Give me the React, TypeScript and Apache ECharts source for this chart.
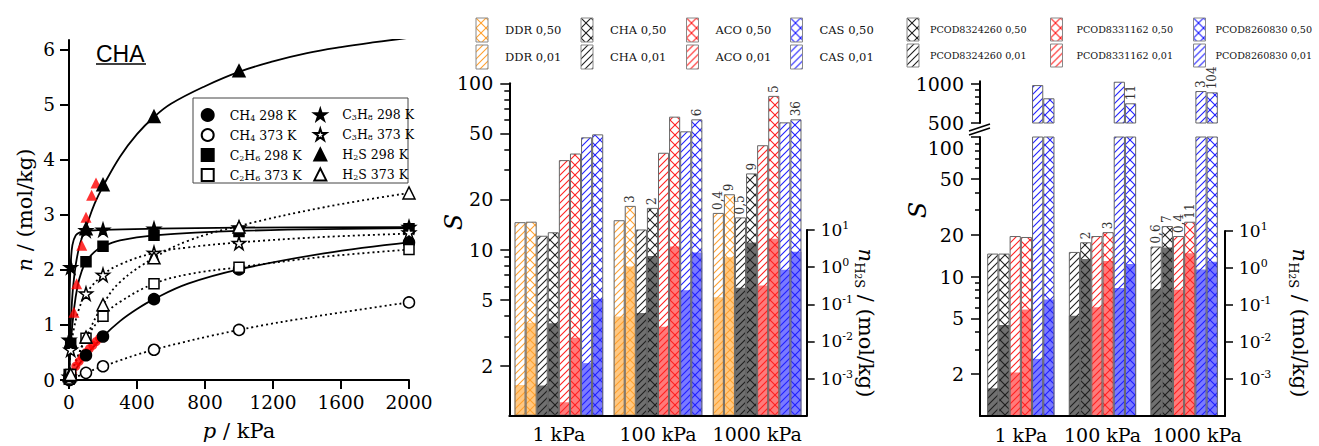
import React, { useEffect, useRef } from 'react';
import * as echarts from 'echarts';

const SERIF = '"DejaVu Serif", serif';

// ---------- Left panel: isotherms in CHA (p / kPa, n / mol/kg) ----------
// measured points (markers)
const P_CH4_298 = [1, 10, 100, 200, 500, 1000, 2000];
const N_CH4_298 = [0.0, 0.05, 0.45, 0.79, 1.47, 2.01, 2.5];
const P_CH4_373 = [10, 100, 200, 500, 1000, 2000];
const N_CH4_373 = [0.01, 0.13, 0.25, 0.55, 0.91, 1.41];
const P_C2H6_298 = [1, 10, 100, 200, 500, 1000, 2000];
const N_C2H6_298 = [0.1, 0.65, 2.15, 2.43, 2.63, 2.7, 2.75];
const P_C2H6_373 = [1, 10, 100, 200, 500, 1000, 2000];
const N_C2H6_373 = [0.02, 0.1, 0.76, 1.16, 1.75, 2.05, 2.37];
const P_C3H8_298 = [1, 10, 100, 200, 500, 1000, 2000];
const N_C3H8_298 = [0.73, 2.05, 2.72, 2.73, 2.75, 2.77, 2.78];
const P_C3H8_373 = [1, 10, 100, 200, 500, 1000, 2000];
const N_C3H8_373 = [0.06, 0.55, 1.57, 1.91, 2.31, 2.49, 2.68];
const P_H2S_298 = [1, 10, 100, 200, 500, 1000, 2000];
const N_H2S_298 = [0.08, 0.7, 2.75, 3.55, 4.79, 5.62, 6.22];
const P_H2S_373 = [10, 100, 200, 500, 1000, 2000];
const N_H2S_373 = [0.1, 0.78, 1.37, 2.22, 2.78, 3.4];
// red markers
const P_RED_TRI = [29, 45, 75, 100, 133, 159];
const N_RED_TRI = [1.23, 1.75, 2.45, 2.96, 3.36, 3.58];
const P_RED_CIR = [20, 40, 60, 80, 100, 120, 140, 160, 180];
const N_RED_CIR = [0.12, 0.25, 0.34, 0.42, 0.5, 0.57, 0.63, 0.7, 0.76];
// fitted curves
const FP_CH4_298 = [0, 10, 50, 100, 200, 300, 400, 500, 700, 1000, 1500, 2000];
const FN_CH4_298 = [0, 0.05, 0.24, 0.45, 0.79, 1.07, 1.29, 1.47, 1.75, 2.01, 2.3, 2.5];
const FP_CH4_373 = [0, 100, 200, 500, 1000, 1500, 2000];
const FN_CH4_373 = [0, 0.13, 0.25, 0.55, 0.91, 1.18, 1.41];
const FP_C2H6_298 = [0, 1, 10, 30, 50, 75, 100, 150, 200, 300, 500, 1000, 2000];
const FN_C2H6_298 = [0, 0.1, 0.65, 1.3, 1.7, 1.98, 2.15, 2.33, 2.43, 2.54, 2.63, 2.71, 2.76];
const FP_C2H6_373 = [0, 10, 50, 100, 200, 300, 500, 700, 1000, 1500, 2000];
const FN_C2H6_373 = [0, 0.1, 0.42, 0.76, 1.16, 1.42, 1.75, 1.92, 2.05, 2.24, 2.37];
const FP_C3H8_298 = [0, 1, 3, 6, 10, 20, 40, 70, 100, 200, 500, 1000, 2000];
const FN_C3H8_298 = [0, 0.75, 1.45, 1.85, 2.1, 2.45, 2.63, 2.69, 2.71, 2.73, 2.75, 2.77, 2.78];
const FP_C3H8_373 = [0, 10, 30, 60, 100, 200, 300, 500, 700, 1000, 1500, 2000];
const FN_C3H8_373 = [0, 0.55, 0.95, 1.3, 1.57, 1.91, 2.1, 2.31, 2.41, 2.5, 2.6, 2.66];
const FP_H2S_298 = [0, 3, 8, 15, 25, 40, 60, 80, 100, 150, 200, 300, 400, 500, 600, 800, 1000, 1200, 1400, 1600, 1800, 2000];
const FN_H2S_298 = [0, 0.35, 0.85, 1.3, 1.72, 2.1, 2.42, 2.62, 2.78, 3.2, 3.52, 4.06, 4.47, 4.78, 5.02, 5.34, 5.6, 5.79, 5.94, 6.05, 6.14, 6.22];
const FP_H2S_373 = [0, 10, 50, 100, 200, 300, 500, 700, 1000, 1500, 2000];
const FN_H2S_373 = [0, 0.1, 0.4, 0.77, 1.37, 1.78, 2.22, 2.53, 2.8, 3.14, 3.4];

const LEFT_X_TICKS = [0, 400, 800, 1200, 1600, 2000];
const LEFT_Y_TICKS = [0, 1, 2, 3, 4, 5, 6];

// ---------- Bar panels ----------
const CATS = ['1 kPa', '100 kPa', '1000 kPa'];
// middle panel: selectivity S
const S_DDR_001 = [14.6, 15.0, 16.6];
const S_DDR_050 = [14.7, 18.3, 21.5];
const S_CHA_001 = [12.1, 13.2, 15.6];
const S_CHA_050 = [12.7, 17.8, 28.7];
const S_ACO_001 = [34.5, 38.2, 42.4];
const S_ACO_050 = [37.8, 63, 84];
const S_CAS_001 = [47.3, 51.4, 58.2];
const S_CAS_050 = [49.3, 60.7, 60.7];
// middle panel: n_H2S (mol/kg)
const N_DDR_001 = [0.00067, 0.047, 0.155];
const N_DDR_050 = [0.032, 1.04, 1.86];
const N_CHA_001 = [0.00065, 0.058, 0.28];
const N_CHA_050 = [0.031, 2.0, 4.6];
const N_ACO_001 = [0.00023, 0.025, 0.32];
const N_ACO_050 = [0.0126, 3.6, 5.8];
const N_CAS_001 = [0.0026, 0.24, 0.85];
const N_CAS_050 = [0.138, 2.47, 2.6];
// middle panel labels
const L_DDR_001 = ['', '', '0,4'];
const L_DDR_050 = ['', '3', '9'];
const L_CHA_001 = ['', '', '0,5'];
const L_CHA_050 = ['', '2', '9'];
const L_ACO_001 = ['', '', ''];
const L_ACO_050 = ['', '', '5'];
const L_CAS_001 = ['', '', ''];
const L_CAS_050 = ['', '6', '36'];

// right panel
const S_P24_001 = [14.6, 15.0, 16.4];
const S_P24_050 = [14.6, 17.6, 23];
const S_P62_001 = [19.5, 19.5, 19.5];
const S_P62_050 = [19.2, 20.8, 24.7];
const S_P30_001 = [982, 1042, 883];
const S_P30_050 = [776, 710, 863];
const N_P24_001 = [0.00056, 0.051, 0.27];
const N_P24_050 = [0.029, 1.75, 3.6];
const N_P62_001 = [0.0015, 0.087, 0.26];
const N_P62_050 = [0.076, 1.55, 2.5];
const N_P30_001 = [0.0035, 0.29, 0.91];
const N_P30_050 = [0.14, 1.29, 1.48];
const L_P24_001 = ['', '', '0,6'];
const L_P24_050 = ['', '2', '7'];
const L_P62_001 = ['', '', '0,4'];
const L_P62_050 = ['', '3', '11'];
const L_P30_001 = ['', '', '3'];
const L_P30_050 = ['', '11', '104'];

const S_MAJOR = [2, 5, 10, 20, 50, 100];
const S_MINOR = [3, 4, 6, 7, 8, 9, 30, 40, 60, 70, 80, 90];
const S_UP_MAJOR = [500, 1000];
const S_UP_MINOR = [600, 700, 800, 900];
const N_TICKS = [0.001, 0.01, 0.1, 1, 10];

const STAR =
  'path://M50 0 L61.2 34.6 L97.6 34.5 L68.1 55.9 L79.4 90.5 L50 69 L20.6 90.5 L31.9 55.9 L2.4 34.5 L38.8 34.6 Z';

const COLORS = {
  orange: { line: '#ff9f2e', fill: '#ffc882' },
  black: { line: '#1e1e1e', fill: '#707070' },
  red: { line: '#ff1f1f', fill: '#ff7a7a' },
  blue: { line: '#1f1fff', fill: '#7a7aff' },
};

function makeHatch(color: string, cross: boolean) {
  const s = cross ? 10 : 7;
  const c = document.createElement('canvas');
  c.width = s;
  c.height = s;
  const g = c.getContext('2d')!;
  g.strokeStyle = color;
  g.lineWidth = 1.1;
  for (let k = -1; k <= 1; k++) {
    g.beginPath();
    g.moveTo(k * s - 1, s + 1);
    g.lineTo(k * s + s + 1, -1);
    g.stroke();
    if (cross) {
      g.beginPath();
      g.moveTo(k * s - 1, -1);
      g.lineTo(k * s + s + 1, s + 1);
      g.stroke();
    }
  }
  return { image: c.toDataURL('image/png'), repeat: 'repeat', imageWidth: s, imageHeight: s };
}

function chem(name: string) {
  const parts = name.split(' ');
  const f = parts[0];
  let out = '';
  for (const ch of f) out += /\d/.test(ch) ? `{s|${ch}}` : `{t|${ch}}`;
  return out + `{t| ${parts.slice(1).join(' ')}}`;
}

export default function App() {
  const ref = useRef<HTMLDivElement>(null);
  useEffect(() => {
    document.body.style.margin = '0';
    const chart = echarts.init(ref.current!, null, { renderer: 'svg' });

    const axisLineStyle = { color: '#000', width: 2 };

    // ---------- left series ----------
    const leftDefs = [
      { name: 'CH4 298 K', p: P_CH4_298, n: N_CH4_298, fp: FP_CH4_298, fn: FN_CH4_298, sym: 'circle', size: 11, open: false },
      { name: 'CH4 373 K', p: P_CH4_373, n: N_CH4_373, fp: FP_CH4_373, fn: FN_CH4_373, sym: 'circle', size: 11, open: true },
      { name: 'C2H6 298 K', p: P_C2H6_298, n: N_C2H6_298, fp: FP_C2H6_298, fn: FN_C2H6_298, sym: 'rect', size: 10, open: false },
      { name: 'C2H6 373 K', p: P_C2H6_373, n: N_C2H6_373, fp: FP_C2H6_373, fn: FN_C2H6_373, sym: 'rect', size: 10, open: true },
      { name: 'C3H8 298 K', p: P_C3H8_298, n: N_C3H8_298, fp: FP_C3H8_298, fn: FN_C3H8_298, sym: STAR, size: 13, open: false },
      { name: 'C3H8 373 K', p: P_C3H8_373, n: N_C3H8_373, fp: FP_C3H8_373, fn: FN_C3H8_373, sym: STAR, size: 13, open: true },
      { name: 'H2S 298 K', p: P_H2S_298, n: N_H2S_298, fp: FP_H2S_298, fn: FN_H2S_298, sym: 'triangle', size: 12, open: false },
      { name: 'H2S 373 K', p: P_H2S_373, n: N_H2S_373, fp: FP_H2S_373, fn: FN_H2S_373, sym: 'triangle', size: 12, open: true },
    ];
    const leftSeries: any[] = [
      {
        type: 'scatter', name: 'red tri', xAxisIndex: 0, yAxisIndex: 0, symbol: 'triangle', symbolSize: 11,
        itemStyle: { color: '#ff0000' }, data: P_RED_TRI.map((p, i) => [p, N_RED_TRI[i]]), silent: true, z: 2,
      },
      {
        type: 'scatter', name: 'red cir', xAxisIndex: 0, yAxisIndex: 0, symbol: 'circle', symbolSize: 9,
        itemStyle: { color: '#ff0000' }, data: P_RED_CIR.map((p, i) => [p, N_RED_CIR[i]]), silent: true, z: 2,
      },
      ...leftDefs.map((d) => ({
        type: 'line',
        name: d.name + ' fit',
        xAxisIndex: 0,
        yAxisIndex: 0,
        data: d.fp.map((p, i) => [p, d.fn[i]]),
        smooth: 0.4,
        showSymbol: false,
        symbol: 'none',
        lineStyle: { color: '#000', width: 1.8, type: d.open ? [2, 3] : 'solid' },
        emphasis: { disabled: true },
        silent: true,
        z: 2,
      })),
      ...leftDefs.map((d) => ({
        type: 'scatter',
        name: d.name,
        xAxisIndex: 0,
        yAxisIndex: 0,
        data: d.p.map((p, i) => [p, d.n[i]]),
        symbol: d.sym,
        symbolSize: d.size,
        itemStyle: { color: d.open ? '#fff' : '#000', borderColor: '#000', borderWidth: 1.5, opacity: 1 },
        emphasis: { disabled: true },
        silent: true,
        z: 3,
      })),
    ];

    // ---------- bar series ----------
    const mkHatched = (name: string, data: any[], labels: string[] | null, col: any, cross: boolean, xi: number, yi: number, gap: string) => ({
      type: 'bar',
      name,
      xAxisIndex: xi,
      yAxisIndex: yi,
      data,
      barGap: '0%',
      barCategoryGap: gap,
      z: 3,
      itemStyle: { color: makeHatch(col.line, cross), borderColor: '#666', borderWidth: 1 },
      label: labels
        ? {
            show: true, position: 'top', rotate: 90, align: 'left', verticalAlign: 'middle', distance: 3,
            fontFamily: SERIF, fontSize: 12, color: '#333',
            formatter: (p: any) => labels[p.dataIndex],
          }
        : { show: false },
      emphasis: { disabled: true },
      silent: true,
    });
    const mkFill = (name: string, data: number[], col: any, xi: number, yi: number, gap: string) => ({
      type: 'bar',
      name,
      xAxisIndex: xi,
      yAxisIndex: yi,
      data,
      barGap: '0%',
      barCategoryGap: gap,
      z: 1,
      itemStyle: { color: col.fill, borderWidth: 0 },
      emphasis: { disabled: true },
      silent: true,
    });

    const MG = '10.5%';
    const RG = '17.6%';
    const midDefs = [
      ['DDR 0,01', S_DDR_001, N_DDR_001, L_DDR_001, COLORS.orange, false],
      ['DDR 0,50', S_DDR_050, N_DDR_050, L_DDR_050, COLORS.orange, true],
      ['CHA 0,01', S_CHA_001, N_CHA_001, L_CHA_001, COLORS.black, false],
      ['CHA 0,50', S_CHA_050, N_CHA_050, L_CHA_050, COLORS.black, true],
      ['ACO 0,01', S_ACO_001, N_ACO_001, L_ACO_001, COLORS.red, false],
      ['ACO 0,50', S_ACO_050, N_ACO_050, L_ACO_050, COLORS.red, true],
      ['CAS 0,01', S_CAS_001, N_CAS_001, L_CAS_001, COLORS.blue, false],
      ['CAS 0,50', S_CAS_050, N_CAS_050, L_CAS_050, COLORS.blue, true],
    ] as any[];
    const rightDefs = [
      ['PCOD8324260 0,01', S_P24_001, N_P24_001, L_P24_001, COLORS.black, false, false],
      ['PCOD8324260 0,50', S_P24_050, N_P24_050, L_P24_050, COLORS.black, true, false],
      ['PCOD8331162 0,01', S_P62_001, N_P62_001, L_P62_001, COLORS.red, false, false],
      ['PCOD8331162 0,50', S_P62_050, N_P62_050, L_P62_050, COLORS.red, true, false],
      ['PCOD8260830 0,01', S_P30_001, N_P30_001, L_P30_001, COLORS.blue, false, true],
      ['PCOD8260830 0,50', S_P30_050, N_P30_050, L_P30_050, COLORS.blue, true, true],
    ] as any[];

    const barSeries: any[] = [];
    midDefs.forEach((d) => barSeries.push(mkFill(d[0] + ' n', d[2], d[4], 2, 3, MG)));
    midDefs.forEach((d) => barSeries.push(mkHatched(d[0], d[1], d[3], d[4], d[5], 1, 1, MG)));
    rightDefs.forEach((d) => barSeries.push(mkFill(d[0] + ' n', d[2], d[4], 5, 8, RG)));
    rightDefs.forEach((d) => barSeries.push(mkHatched(d[0], d[1], d[6] ? null : d[3], d[4], d[5], 3, 4, RG)));
    rightDefs.forEach((d) =>
      barSeries.push(
        mkHatched(d[0] + ' up', d[6] ? d[1] : [null, null, null], d[6] ? d[3] : null, d[4], d[5], 4, 6, RG)
      )
    );

    // ---------- axes ----------
    const sAxes = (grid: number, min: number, max: number, major: number[], minor: number[], shift100: boolean) => [
      {
        type: 'log', gridIndex: grid, min, max, position: 'left', offset: 0,
        axisLine: { show: true, lineStyle: axisLineStyle },
        axisTick: { show: true, length: 9, lineStyle: { color: '#000', width: 1.5 }, customValues: major },
        axisLabel: {
          show: true, customValues: major, fontFamily: SERIF, fontSize: 19, color: '#000', margin: 16,
          formatter: (v: number) => (shift100 && Math.round(v) === 100 ? '{d|100}' : String(Math.round(v))),
          rich: { d: { fontFamily: SERIF, fontSize: 19, color: '#000', padding: [22, 0, 0, 0] } },
        },
        splitLine: { show: false },
      },
      {
        type: 'log', gridIndex: grid, min, max, position: 'left', offset: 0,
        axisLine: { show: false },
        axisTick: { show: true, length: 5, lineStyle: { color: '#000', width: 1.5 }, customValues: minor },
        axisLabel: { show: false },
        splitLine: { show: false },
      },
    ];
    const nAxis = (grid: number) => ({
      type: 'log', gridIndex: grid, min: 1e-4, max: 10, startValue: 1e-4, position: 'right', offset: 0,
      axisLine: { show: true, lineStyle: axisLineStyle },
      axisTick: { show: true, length: 8, lineStyle: { color: '#000', width: 1.5 }, customValues: N_TICKS },
      axisLabel: {
        show: true, customValues: N_TICKS, margin: 14,
        formatter: (v: number) => `{b|10}{e|${Math.round(Math.log10(v))}}`,
        rich: {
          b: { fontFamily: SERIF, fontSize: 17, color: '#000', lineHeight: 20 },
          e: { fontFamily: SERIF, fontSize: 11, color: '#000', lineHeight: 9, verticalAlign: 'top' },
        },
      },
      splitLine: { show: false },
    });
    const catAxis = (grid: number, show: boolean, shiftLast: boolean) => ({
      type: 'category', gridIndex: grid, data: CATS, show, z: 5,
      axisLine: { show: true, onZero: false, lineStyle: axisLineStyle },
      axisTick: { show: false },
      axisLabel: {
        fontFamily: SERIF, fontSize: 19, color: '#000', margin: 9, interval: 0,
        formatter: (v: string, i: number) => (shiftLast && i === 2 ? `{r|${v}}` : v),
        rich: { r: { fontFamily: SERIF, fontSize: 19, color: '#000', padding: [0, 0, 0, 26] } },
      },
      splitLine: { show: false },
    });

    const nameRich = {
      i: { fontFamily: SERIF, fontSize: 21, fontStyle: 'italic', color: '#000' },
      r: { fontFamily: SERIF, fontSize: 21, color: '#000' },
    };

    const leftLegend = (names: any[], left: number) => ({
      data: names,
      orient: 'vertical',
      left,
      top: 103,
      itemWidth: 12,
      itemHeight: 12,
      itemGap: 6,
      selectedMode: false,
      z: 6,
      formatter: (n: string) => chem(n),
      textStyle: {
        padding: [0, 0, 0, 11],
        rich: {
          t: { fontFamily: SERIF, fontSize: 12.5, color: '#000', lineHeight: 14 },
          s: { fontFamily: SERIF, fontSize: 8, color: '#000', lineHeight: 6, verticalAlign: 'bottom' },
        },
      },
    });
    const barLegend = (names: string[], left: number, fontSize: number, pad: number, ih: number) => ({
      data: names,
      orient: 'vertical',
      left,
      top: 12.5,
      itemWidth: 12,
      itemHeight: ih,
      itemGap: 2,
      icon: 'rect',
      selectedMode: false,
      itemStyle: { borderColor: '#888', borderWidth: 1 },
      textStyle: { fontFamily: SERIF, fontSize, color: '#111', padding: [0, 0, 0, pad] },
    });

    const graphicRich = {
      i: { fontFamily: SERIF, fontSize: 21, fontStyle: 'italic', fill: '#000' },
      s: { fontFamily: SERIF, fontSize: 13, fill: '#000', lineHeight: 14, verticalAlign: 'bottom' },
      ss: { fontFamily: SERIF, fontSize: 9, fill: '#000', lineHeight: 6, verticalAlign: 'bottom' },
      r: { fontFamily: SERIF, fontSize: 21, fill: '#000', lineHeight: 26 },
    };
    const nLabel = (x: number, y: number) => ({
      type: 'text', x, y, rotation: -Math.PI / 2, z: 10,
      style: {
        text: '{i|n}{s|H}{ss|2}{s|S}{r| / (mol/kg)}',
        rich: graphicRich,
        align: 'center',
        verticalAlign: 'middle',
      },
    });

    const option: any = {
      animation: false,
      backgroundColor: '#fff',
      textStyle: { fontFamily: SERIF },
      grid: [
        { left: 69, top: 40, width: 340, height: 340, containLabel: false, outerBoundsMode: 'none' },
        { left: 509.3, top: 83.3, width: 297.4, height: 332.4, containLabel: false, outerBoundsMode: 'none' },
        { left: 509.3, top: 230, width: 297.4, height: 185.7, containLabel: false, outerBoundsMode: 'none' },
        { left: 980, top: 137, width: 245, height: 279, containLabel: false, outerBoundsMode: 'none' },
        { left: 980, top: 81.3, width: 245, height: 41.7, containLabel: false, outerBoundsMode: 'none' },
        { left: 980, top: 231, width: 245, height: 185, containLabel: false, outerBoundsMode: 'none' },
      ],
      xAxis: [
        {
          type: 'value', gridIndex: 0, min: 0, max: 2000, interval: 400,
          axisLine: { show: true, onZero: false, lineStyle: axisLineStyle },
          axisTick: { show: true, length: 9, lineStyle: { color: '#000', width: 2 }, customValues: LEFT_X_TICKS },
          axisLabel: {
            customValues: LEFT_X_TICKS, fontFamily: SERIF, fontSize: 18.5, color: '#000', margin: 13,
            formatter: (v: number) => String(Math.round(v)),
          },
          splitLine: { show: false },
          name: '{i|p}{r| / kPa}', nameLocation: 'middle', nameGap: 40,
          nameTextStyle: { rich: nameRich },
        },
        catAxis(1, true, false),
        catAxis(2, false, false),
        catAxis(3, true, true),
        catAxis(4, false, false),
        catAxis(5, false, false),
      ],
      yAxis: [
        {
          type: 'value', gridIndex: 0, min: 0, max: 6.18,
          axisLine: { show: true, onZero: false, lineStyle: axisLineStyle },
          axisTick: { show: true, length: 9, lineStyle: { color: '#000', width: 2 }, customValues: LEFT_Y_TICKS },
          axisLabel: {
            customValues: LEFT_Y_TICKS, fontFamily: SERIF, fontSize: 18.5, color: '#000', margin: 14,
            formatter: (v: number) => String(Math.round(v)),
          },
          splitLine: { show: false },
          name: '{i|n}{r| / (mol/kg)}', nameLocation: 'middle', nameGap: 34, nameRotate: 90,
          nameTextStyle: { rich: nameRich },
        },
        ...sAxes(1, 1, 100, S_MAJOR, S_MINOR, false),
        nAxis(2),
        ...sAxes(3, 1, 100, S_MAJOR, S_MINOR, true),
        ...sAxes(4, 500, 1050, S_UP_MAJOR, S_UP_MINOR, false),
        nAxis(5),
      ],
      legend: [
        leftLegend(
          [
            { name: 'CH4 298 K', icon: 'circle' },
            { name: 'CH4 373 K', icon: 'circle' },
            { name: 'C2H6 298 K', icon: 'rect' },
            { name: 'C2H6 373 K', icon: 'rect' },
          ],
          195.7
        ),
        leftLegend(
          [
            { name: 'C3H8 298 K', icon: STAR },
            { name: 'C3H8 373 K', icon: STAR },
            { name: 'H2S 298 K', icon: 'triangle' },
            { name: 'H2S 373 K', icon: 'triangle' },
          ],
          308.3
        ),
        barLegend(['DDR 0,50', 'DDR 0,01'], 470.5, 11.5, 12, 24),
        barLegend(['CHA 0,50', 'CHA 0,01'], 575.5, 11.5, 12, 24),
        barLegend(['ACO 0,50', 'ACO 0,01'], 681, 11.5, 12, 24),
        barLegend(['CAS 0,50', 'CAS 0,01'], 785, 11.5, 12, 24),
        barLegend(['PCOD8324260 0,50', 'PCOD8324260 0,01'], 901.5, 9.6, 6, 23),
        barLegend(['PCOD8331162 0,50', 'PCOD8331162 0,01'], 1045, 9.6, 9, 23),
        barLegend(['PCOD8260830 0,50', 'PCOD8260830 0,01'], 1188, 9.6, 5, 23),
      ],
      graphic: [
        {
          type: 'rect', z: 1, shape: { x: 193, y: 98, width: 215, height: 85 },
          style: { fill: '#fff', stroke: '#444', lineWidth: 1 },
        },
        {
          type: 'text', x: 96, y: 42, z: 10,
          style: { text: 'CHA', font: '23px "Liberation Sans", Arial, sans-serif', fill: '#000' },
        },
        {
          type: 'line', z: 10, shape: { x1: 96, y1: 64, x2: 146, y2: 64 },
          style: { stroke: '#000', lineWidth: 1.5 },
        },
        {
          type: 'text', x: 454, y: 222, rotation: Math.PI / 2, z: 10,
          style: { text: 'S', font: 'italic 24px "DejaVu Serif", serif', fill: '#000', align: 'center', verticalAlign: 'middle' },
        },
        {
          type: 'text', x: 918, y: 210, rotation: Math.PI / 2, z: 10,
          style: { text: 'S', font: 'italic 24px "DejaVu Serif", serif', fill: '#000', align: 'center', verticalAlign: 'middle' },
        },
        nLabel(866, 323),
        nLabel(1300, 323),
        {
          type: 'line', z: 10, shape: { x1: 969, y1: 131, x2: 990, y2: 124 },
          style: { stroke: '#000', lineWidth: 1.5 },
        },
        {
          type: 'line', z: 10, shape: { x1: 969, y1: 135, x2: 990, y2: 128 },
          style: { stroke: '#000', lineWidth: 1.5 },
        },
      ],
      series: [...leftSeries, ...barSeries],
    };

    chart.setOption(option);
    return () => chart.dispose();
  }, []);

  return <div ref={ref} style={{ width: 1319, height: 446, background: '#fff' }} />;
}
